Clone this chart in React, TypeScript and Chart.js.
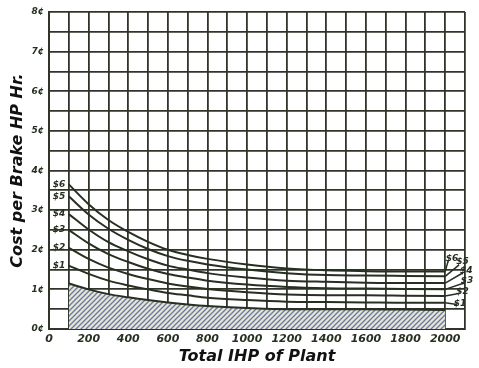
import React, { useEffect, useRef } from 'react';
import { Chart, registerables } from 'chart.js';
Chart.register(...registerables);

// Total IHP of plant (x values where curves were read)
const plantIHP = [100, 200, 300, 400, 500, 600, 700, 800, 1000, 1200, 1400, 1600, 1800, 2000];
// Cost per brake HP hour (cents) for coal at $6 ... $1 per ton
const coal6 = [3.65, 3.15, 2.75, 2.45, 2.2, 2.0, 1.87, 1.77, 1.63, 1.53, 1.48, 1.46, 1.45, 1.45];
const coal5 = [3.35, 2.89, 2.53, 2.25, 2.02, 1.84, 1.72, 1.63, 1.5, 1.41, 1.36, 1.35, 1.34, 1.33];
const coal4 = [2.9, 2.51, 2.19, 1.96, 1.76, 1.6, 1.5, 1.41, 1.3, 1.22, 1.19, 1.17, 1.16, 1.16];
const coal3 = [2.5, 2.16, 1.89, 1.69, 1.52, 1.39, 1.3, 1.22, 1.12, 1.06, 1.03, 1.02, 1.01, 1.0];
const coal2 = [2.05, 1.77, 1.55, 1.39, 1.26, 1.15, 1.07, 1.01, 0.93, 0.87, 0.85, 0.85, 0.84, 0.83];
const coal1 = [1.6, 1.39, 1.22, 1.1, 1.0, 0.91, 0.85, 0.79, 0.73, 0.69, 0.68, 0.67, 0.66, 0.66];
// hatched base (fixed charges)
const fixedCost = [1.15, 1.0, 0.88, 0.8, 0.73, 0.67, 0.62, 0.58, 0.53, 0.5, 0.5, 0.5, 0.49, 0.48];

const seriesLabels = ['$6', '$5', '$4', '$3', '$2', '$1'];
// leader lines from curve ends to right-hand labels (data units)
const leaderEndX = [2015, 2070, 2090, 2095, 2075, 2060];
const leaderEndY = [1.72, 1.62, 1.42, 1.16, 0.9, 0.62];
const rightLabelX = [2035, 2088, 2106, 2110, 2088, 2075];
const rightLabelY = [1.78, 1.7, 1.48, 1.21, 0.95, 0.64];
const leftLabelX = 50;

const yTitle = 'Cost per Brake HP Hr.';
const xTitle = 'Total IHP of Plant';

const curves = [coal6, coal5, coal4, coal3, coal2, coal1];
const INK = '#263020';
const GRID = '#30342a';
const FONT = '"DejaVu Sans"';

function makeHatch(): CanvasPattern | string {
  const c = document.createElement('canvas');
  c.width = 5;
  c.height = 5;
  const g = c.getContext('2d');
  if (!g) return 'rgba(140,140,180,0.4)';
  g.fillStyle = '#dfe9d6';
  g.fillRect(0, 0, 5, 5);
  g.strokeStyle = '#75729f';
  g.lineWidth = 1.3;
  g.beginPath();
  g.moveTo(0, 5); g.lineTo(5, 0);
  g.moveTo(-1, 1); g.lineTo(1, -1);
  g.moveTo(4, 6); g.lineTo(6, 4);
  g.stroke();
  return g.createPattern(c, 'repeat') || 'rgba(140,140,180,0.4)';
}

const labelPlugin = {
  id: 'curveLabels',
  afterDatasetsDraw(chart: any) {
    const { ctx, scales } = chart;
    const x = scales.x, y = scales.y;
    ctx.save();
    ctx.font = `italic bold 9px ${FONT}`;
    ctx.fillStyle = INK;
    ctx.textAlign = 'center';
    ctx.textBaseline = 'middle';
    seriesLabels.forEach((t, i) => {
      ctx.fillText(t, x.getPixelForValue(leftLabelX), y.getPixelForValue(curves[i][0]));
      ctx.fillText(t, x.getPixelForValue(rightLabelX[i]), y.getPixelForValue(rightLabelY[i]));
    });
    ctx.restore();
  },
};

export default function App() {
  const ref = useRef<HTMLCanvasElement>(null);
  useEffect(() => {
    if (!ref.current) return;
    const hatch = makeHatch();
    const curveSets = curves.map((vals, i) => ({
      label: seriesLabels[i],
      data: plantIHP.map((x, j) => ({ x, y: vals[j] })),
      borderColor: INK,
      borderWidth: 2,
      pointRadius: 0,
      fill: false,
      cubicInterpolationMode: 'monotone' as const,
    }));
    const leaderSets = curves.map((vals, i) => ({
      label: seriesLabels[i] + ' leader',
      data: [
        { x: plantIHP[plantIHP.length - 1], y: vals[vals.length - 1] },
        { x: leaderEndX[i], y: leaderEndY[i] },
      ],
      borderColor: INK,
      borderWidth: 1.5,
      pointRadius: 0,
      fill: false,
    }));
    const chart = new Chart(ref.current, {
      type: 'line',
      data: {
        datasets: [
          {
            label: 'Fixed charges',
            data: plantIHP.map((x, j) => ({ x, y: fixedCost[j] })),
            borderColor: INK,
            borderWidth: 2,
            pointRadius: 0,
            backgroundColor: hatch as any,
            fill: 'origin',
            cubicInterpolationMode: 'monotone',
          },
          ...curveSets,
          ...leaderSets,
        ] as any,
      },
      options: {
        animation: false,
        responsive: false,
        devicePixelRatio: 1,
        layout: { padding: { left: 0, top: 12, right: 14, bottom: 0 } },
        plugins: { legend: { display: false }, tooltip: { enabled: false } },
        scales: {
          x: {
            type: 'linear',
            min: 0,
            max: 2100,
            afterFit: (s: any) => { s.height = 39; },
            grid: { color: GRID, lineWidth: 1.8, drawTicks: false },
            border: { color: GRID, width: 2 },
            ticks: {
              stepSize: 100,
              autoSkip: false,
              maxRotation: 0,
              padding: 4,
              color: INK,
              font: { family: FONT, size: 11, style: 'italic', weight: 'bold' },
              callback: (v: any) => (v % 200 === 0 && v <= 2000 ? String(v) : ''),
            },
            title: {
              display: true,
              text: xTitle,
              color: '#111',
              padding: { top: 0, bottom: 2 },
              font: { family: FONT, size: 16, style: 'italic', weight: 'bold' },
            },
          },
          y: {
            type: 'linear',
            min: 0,
            max: 8,
            afterFit: (s: any) => { s.width = 49; },
            grid: { color: GRID, lineWidth: 1.8, drawTicks: false },
            border: { color: GRID, width: 2 },
            ticks: {
              stepSize: 0.5,
              autoSkip: false,
              padding: 5,
              color: INK,
              font: { family: FONT, size: 9, style: 'italic', weight: 'bold' },
              callback: (v: any) => (Number.isInteger(v) ? `${v}¢` : ''),
            },
            title: {
              display: true,
              text: yTitle,
              color: '#111',
              padding: { top: 8, bottom: 0 },
              font: { family: FONT, size: 16, style: 'italic', weight: 'bold' },
            },
          },
        },
      },
      plugins: [labelPlugin],
    });
    return () => chart.destroy();
  }, []);
  return (
    <div style={{ position: 'fixed', left: 0, top: 0, width: 479, height: 368, background: '#fff' }}>
      <canvas ref={ref} width={479} height={368} style={{ width: 479, height: 368, display: 'block' }} />
    </div>
  );
}
